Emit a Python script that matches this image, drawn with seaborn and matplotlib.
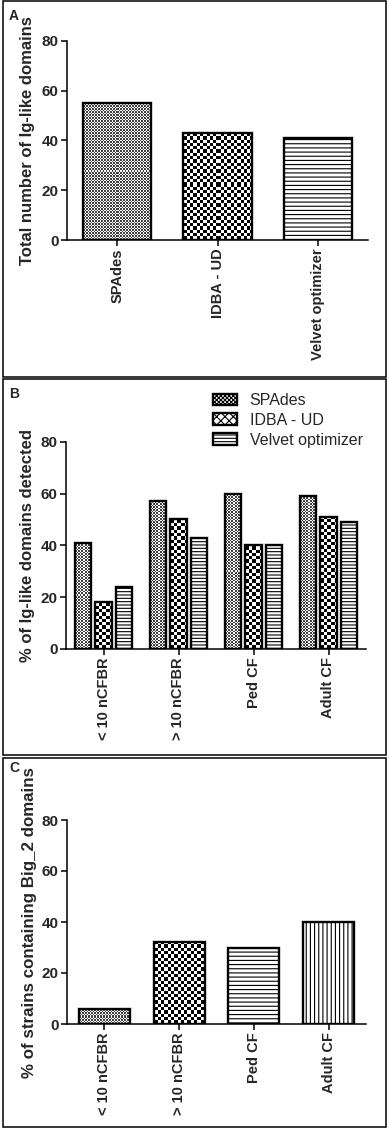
import numpy as np
import pandas as pd
import matplotlib
matplotlib.use("Agg")
import matplotlib.pyplot as plt
from matplotlib.patches import Rectangle, Patch
import seaborn as sns

# ---------------- data ----------------
assemblers = ["SPAdes", "IDBA - UD", "Velvet optimizer"]
total_domains = [55, 43, 41]

groups = ["< 10 nCFBR", "> 10 nCFBR", "Ped CF", "Adult CF"]
spades_pct = [41, 57, 60, 59]
idba_pct = [18, 50, 40, 51]
velvet_pct = [24, 43, 40, 49]

big2_pct = [6, 32, 30, 40]

yticks = [0, 20, 40, 60, 80]
ylabels = ["Total number of Ig-like domains",
           "% of Ig-like domains detected",
           "% of strains containing Big_2 domains"]
panel_letters = ["A", "B", "C"]

# ---------------- style ----------------
sns.set_theme(style="ticks")
plt.rcParams["font.family"] = ["Liberation Sans", "DejaVu Sans"]
plt.rcParams["hatch.linewidth"] = 0.8
plt.rcParams["hatch.color"] = "black"

W, H = 389, 1133
fig = plt.figure(figsize=(W / 100, H / 100), dpi=100)
fig.patch.set_facecolor("white")


def add_ax(l, r, t, b):
    return fig.add_axes([l / W, 1 - b / H, (r - l) / W, (b - t) / H])


axA = add_ax(67, 368, 40.7, 240)
axB = add_ax(66, 366, 441.7, 649)
axC = add_ax(67, 366, 820, 1024)

EDGE_LW = 1.7


def style_ax(ax, ylabel, labelpad, label_size=12):
    ax.set_ylim(0, 80)
    ax.set_yticks(yticks)
    ax.set_xlabel("")
    ax.set_ylabel(ylabel, fontsize=label_size, fontweight="bold", labelpad=labelpad)
    ax.tick_params(axis="y", labelsize=11)
    ax.tick_params(axis="x", labelsize=10.5, labelrotation=90)
    ax.tick_params(axis="both", length=4.5, width=1.1, color="black", pad=1.5)
    for lab in ax.get_xticklabels() + ax.get_yticklabels():
        lab.set_fontweight("bold")
    for s in ["left", "bottom"]:
        ax.spines[s].set_linewidth(1.1)
        ax.spines[s].set_color("black")
    sns.despine(ax=ax)
    ax.set_facecolor("none")


def checker(ax, patch, cell, dark):
    (x0, y0), (x1, y1) = patch.get_bbox().get_points()
    p0 = ax.transData.transform((x0, y0))
    p1 = ax.transData.transform((x1, y1))
    w = max(1, int(round(abs(p1[0] - p0[0]))))
    h = max(1, int(round(abs(p1[1] - p0[1]))))
    i = np.arange(h)[:, None]
    j = np.arange(w)[None, :]
    arr = (np.floor(i / cell) + np.floor(j / cell)) % 2
    arr = np.where(arr > 0.5, 1.0, dark)
    im = ax.imshow(arr, cmap="gray", vmin=0, vmax=1, extent=(x0, x1, y0, y1),
                   origin="lower", interpolation="nearest", aspect="auto",
                   zorder=patch.get_zorder() - 0.01)
    im.set_clip_path(patch)
    patch.set_facecolor("none")


FINE, COARSE = 1.5, 3.3

# ---------------- panel A ----------------
dfA = pd.DataFrame({"assembler": assemblers, "count": total_domains})
sns.barplot(data=dfA, x="assembler", y="count", color="white", width=0.68,
            edgecolor="black", linewidth=EDGE_LW, ax=axA)
style_ax(axA, ylabels[0], 5)
axA.set_xlim(-0.5, 2.5)
pA = axA.containers[0].patches
checker(axA, pA[0], FINE, 0.25)
checker(axA, pA[1], COARSE, 0.0)
pA[2].set_hatch("----")
axA.set_xlim(-0.5, 2.5)
axA.set_ylim(0, 80)

# ---------------- panel B ----------------
dfB = pd.DataFrame({
    "group": groups * 3,
    "assembler": [assemblers[0]] * 4 + [assemblers[1]] * 4 + [assemblers[2]] * 4,
    "pct": spades_pct + idba_pct + velvet_pct,
})
sns.barplot(data=dfB, x="group", y="pct", hue="assembler", hue_order=assemblers,
            palette=["white"] * 3, width=0.83, gap=0.22, edgecolor="black",
            linewidth=EDGE_LW, legend=False, ax=axB)
style_ax(axB, ylabels[1], 4)
axB.set_xlim(-0.5, 3.5)
for p in axB.containers[0].patches:
    checker(axB, p, FINE, 0.25)
for p in axB.containers[1].patches:
    checker(axB, p, COARSE, 0.0)
for p in axB.containers[2].patches:
    p.set_hatch("-----")
axB.set_xlim(-0.5, 3.5)
axB.set_ylim(0, 80)

handles = [
    Patch(facecolor="white", edgecolor="black", hatch="xxxxxxxx", lw=EDGE_LW, label=assemblers[0]),
    Patch(facecolor="white", edgecolor="black", hatch="xxxx", lw=EDGE_LW, label=assemblers[1]),
    Patch(facecolor="white", edgecolor="black", hatch="-----", lw=EDGE_LW, label=assemblers[2]),
]
axB.legend(handles=handles, loc="upper left", bbox_to_anchor=(0.49, 1.235),
           frameon=False, fontsize=11.5, handlelength=1.5, handleheight=0.75,
           handletextpad=0.8, labelspacing=0.3, borderpad=0, borderaxespad=0)

# ---------------- panel C ----------------
dfC = pd.DataFrame({"group": groups, "pct": big2_pct})
sns.barplot(data=dfC, x="group", y="pct", color="white", width=0.68,
            edgecolor="black", linewidth=EDGE_LW, ax=axC)
style_ax(axC, ylabels[2], 3.5, label_size=12.2)
axC.set_xlim(-0.5, 3.5)
pC = axC.containers[0].patches
checker(axC, pC[0], FINE, 0.25)
checker(axC, pC[1], COARSE, 0.0)
pC[2].set_hatch("----")
pC[3].set_hatch("||||")
axC.set_xlim(-0.5, 3.5)
axC.set_ylim(0, 80)

# ---------------- panel boxes & letters ----------------
boxes = [(1, 377), (379, 755), (758, 1127)]
letter_y = [9, 387, 761]
for (t, b), ly, letter in zip(boxes, letter_y, panel_letters):
    fig.add_artist(Rectangle((3 / W, 1 - b / H), (386 - 3) / W, (b - t) / H,
                             transform=fig.transFigure, fill=False,
                             lw=1.1, ec="black"))
    fig.text(9 / W, 1 - ly / H, letter, fontsize=10, fontweight="bold",
             ha="left", va="top")

fig.savefig("out.png", dpi=100)
